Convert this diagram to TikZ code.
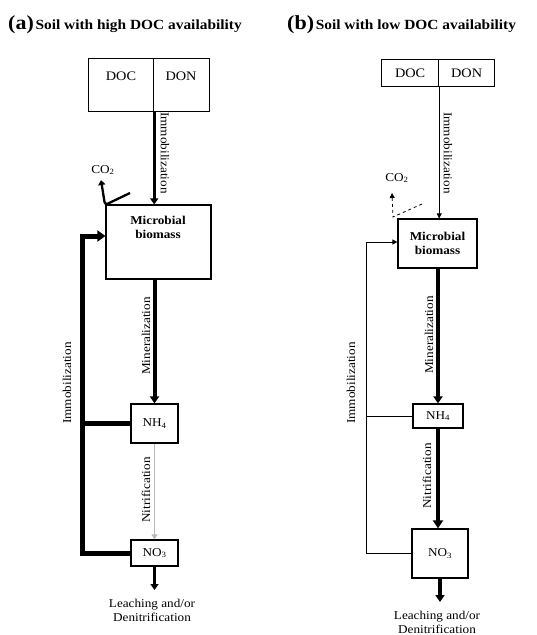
\documentclass[tikz,border=0pt]{standalone}
\usepackage{fontspec}
\setmainfont{Liberation Serif}[FakeStretch=1.1]
\usetikzlibrary{arrows.meta}
\begin{document}
\begin{tikzpicture}[x=1pt,y=-1pt,
  box/.style={draw, line width=1.2pt, inner sep=0pt},
  txt/.style={inner sep=0pt, font=\fontsize{13}{13}\selectfont},
  bold/.style={inner sep=0pt, align=center, font=\fontsize{12}{14}\selectfont\bfseries},
  lbl/.style={inner sep=0pt, font=\fontsize{12}{12}\selectfont},
  leach/.style={inner sep=0pt, align=center, font=\fontsize{12}{14}\selectfont},
  title/.style={inner sep=0pt, anchor=base west},
  fat/.style={line width=4pt, -{Triangle[length=7pt,width=9pt]}},
  mid/.style={line width=2.8pt, -{Triangle[length=6pt,width=8pt]}},
  thin/.style={line width=0.9pt, -{Triangle[length=5pt,width=5pt]}},
  light/.style={line width=1.3pt, gray!55, -{Triangle[length=5pt,width=6pt]}},
  loopfat/.style={line width=5pt, line join=miter},
  loopthin/.style={line width=0.9pt}
]
\useasboundingbox (0,0) rectangle (537,635);

% titles
\node[title] (ta) at (8,29) {{\fontsize{20}{20}\selectfont\bfseries (a)}\,{\fontsize{14}{14}\selectfont\bfseries Soil with high DOC availability}};
\node[title] (tb) at (287,29) {{\fontsize{20}{20}\selectfont\bfseries (b)}\,{\fontsize{14}{14}\selectfont\bfseries Soil with low DOC availability}};

% ---------------- panel (a)
\node[box, minimum width=65pt, minimum height=53pt, anchor=north west] (docA) at (88,58) {};
\node[box, minimum width=56pt, minimum height=53pt, anchor=north west] (donA) at (153,58) {};
\node[txt] (docAt) at (121,76) {DOC};
\node[txt] (donAt) at (181,76) {DON};
\node[box, minimum width=105pt, minimum height=74pt] (mbA) at (158.5,242) {};
\node[bold] (mbAt) at (158,227) {Microbial\\biomass};
\node[box, minimum width=47pt, minimum height=39pt, lbl] (nh4A) at (154.5,423.5) {NH\textsubscript{4}};
\node[box, minimum width=47pt, minimum height=26pt, lbl] (no3A) at (154.5,553) {NO\textsubscript{3}};
\coordinate (leachA) at (154.5,590);
\node[leach] (leachAt) at (152,610) {Leaching and/or\\Denitrification};

\draw[mid] (docA.south east) -- (docA.south east |- mbA.north);
\node[lbl, rotate=-90] (imA) at (165,153) {Immobilization};
\draw[fat] (nh4A.north |- mbA.south) -- (nh4A.north);
\node[lbl, rotate=90] (mnA) at (146,336) {Mineralization};
\draw[light] (nh4A.south) -- (no3A.north);
\node[lbl, rotate=90] (niA) at (146,490) {Nitrification};
\draw[mid] (no3A.south) -- (leachA);

\coordinate (la) at (82,236);
\draw[loopfat, -{Triangle[length=8pt,width=11pt]}] (no3A.west) -| (la) -- ([yshift=6pt]mbA.west);
\draw[loopfat] (nh4A.west) -- (nh4A.west -| la);
\node[lbl, rotate=90] (imA2) at (67,383) {Immobilization};

\node[lbl] (co2A) at (103,170) {CO\textsubscript{2}};
\coordinate (ca1) at (130,193);
\coordinate (ca2) at (105,205);
\coordinate (ca3) at (101,180);
\draw[line width=2.3pt, rounded corners=3pt, -{Triangle[length=5pt,width=7pt]}] (ca1) -- (ca2) -- (ca3);

% ---------------- panel (b)
\node[box, minimum width=57pt, minimum height=27pt, anchor=north west, txt] (docB) at (381,59) {DOC};
\node[box, minimum width=56pt, minimum height=27pt, anchor=north west, txt] (donB) at (438,59) {DON};
\node[box, minimum width=79pt, minimum height=49pt, bold] (mbB) at (437.5,243.5) {Microbial\\biomass};
\node[box, minimum width=50pt, minimum height=24pt, lbl] (nh4B) at (438,416) {NH\textsubscript{4}};
\node[box, minimum width=56pt, minimum height=49pt, lbl] (no3B) at (440,553.5) {NO\textsubscript{3}};
\coordinate (leachB) at (440,602);
\node[leach] (leachBt) at (437,622) {Leaching and/or\\Denitrification};

\draw[thin] (docB.south east) -- (docB.south east |- mbB.north);
\node[lbl, rotate=-90] (imB) at (448,153) {Immobilization};
\draw[fat] (mbB.south -| nh4B.north) -- (nh4B.north);
\node[lbl, rotate=90] (mnB) at (429,335) {Mineralization};
\draw[line width=4.5pt, -{Triangle[length=8pt,width=10pt]}] (nh4B.south) -- (nh4B.south |- no3B.north);
\node[lbl, rotate=90] (niB) at (427,476) {Nitrification};
\draw[fat] (no3B.south) -- (leachB);

\coordinate (lb) at (366,242);
\draw[loopthin, -{Triangle[length=5pt,width=5pt]}] (no3B.west) -| (lb) -- ([yshift=1.5pt]mbB.west);
\draw[loopthin] (nh4B.west) -- (nh4B.west -| lb);
\node[lbl, rotate=90] (imB2) at (351,383) {Immobilization};

\node[lbl] (co2B) at (397,178) {CO\textsubscript{2}};
\coordinate (cb1) at (422,204);
\coordinate (cb2) at (393,217);
\coordinate (cb3) at (392,193);
\draw[line width=0.8pt, dashed, -{Triangle[length=5pt,width=5pt]}] (cb1) -- (cb2) -- (cb3);
\end{tikzpicture}
\end{document}
